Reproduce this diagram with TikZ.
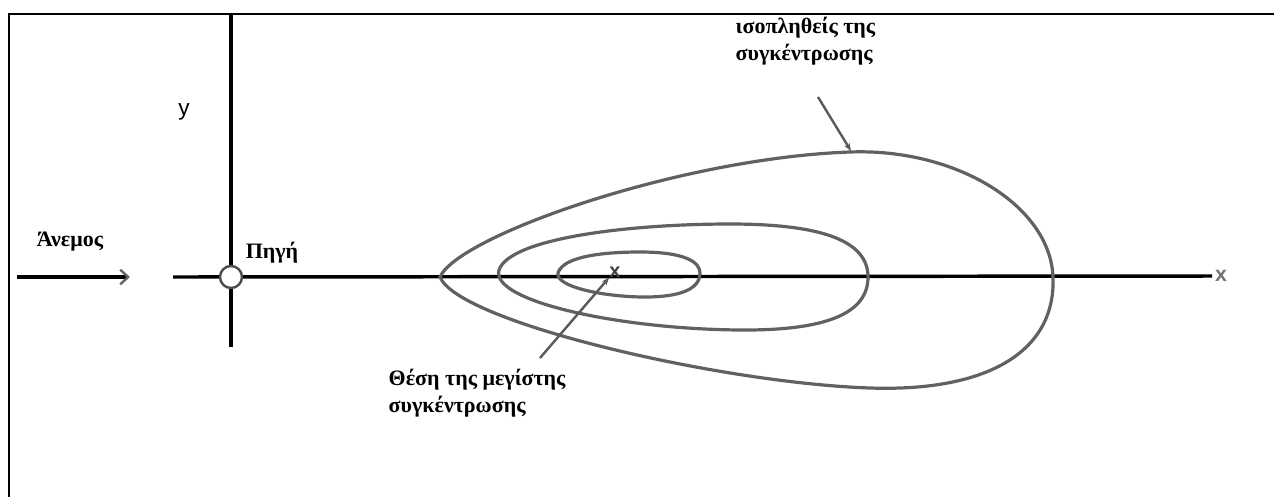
\documentclass[tikz,border=0pt]{standalone}
\usepackage{fontspec}
\setmainfont{Liberation Serif}
\setsansfont{Liberation Sans}
\usetikzlibrary{arrows.meta}

\begin{document}
\begin{tikzpicture}[x=0.75pt, y=-0.75pt, font=\fontsize{16}{20}\selectfont,
  axis/.style={line width=2.6pt},
  iso/.style={line width=2.4pt, black!62},
  ptr/.style={line width=1.8pt, black!65, -{Stealth[length=6pt, width=4.5pt]}},
  lbl/.style={font=\fontsize{16.5}{20.5}\selectfont\bfseries, align=left}]

  \useasboundingbox (0,0) rectangle (1274,497);

  % Frame (open at right and bottom)
  \draw[line width=1.8pt] (9,497) -- (9,14) -- (1274,14);

  % Axes
  \coordinate (ytop) at (231,14);
  \coordinate (ybot) at (231,347);
  \coordinate (xleft) at (173,277);
  \node[text=black!55, font=\sffamily\bfseries\fontsize{16}{16}\selectfont, inner sep=2pt] (xend) at (1221,276) {x};
  \draw[axis] (ytop) -- (ybot);
  \draw[axis] (xleft) -- (xend.west);
  \node[circle, draw=black!70, fill=white, line width=1.8pt, minimum size=16.5pt, inner sep=0pt] (src) at (231,277) {};
  \node[font=\sffamily\fontsize{17}{17}\selectfont] (ylbl) at (184,112) {y};

  % ---- Wind ----
  \coordinate (wstart) at (17,277);
  \coordinate (wend) at (130,277);
  \draw[line width=2.6pt, -{Straight Barb[length=6pt, width=11pt, line width=1.8pt, color=black!60]}] (wstart) -- (wend);
  \node[lbl] (wind) at (70,242) {Άνεμος};
  \node[lbl] (srclbl) at (272,253) {Πηγή};

  % ---- Isopleths ----
  \draw[iso] (440,277) .. controls (458,236) and (680,158) .. (850,152)
    .. controls (955,148) and (1050,205) .. (1053,277)
    .. controls (1056,350) and (990,392) .. (870,388)
    .. controls (720,383) and (458,322) .. (440,277) -- cycle;
  \draw[iso] (499,270) .. controls (510,238) and (630,224) .. (730,224)
    .. controls (825,224) and (868,242) .. (868,277)
    .. controls (868,314) and (825,330) .. (745,330)
    .. controls (625,330) and (490,302) .. (499,270) -- cycle;
  \draw[iso] (558,273) .. controls (563,256) and (605,252) .. (640,252)
    .. controls (685,252) and (700,262) .. (700,273)
    .. controls (700,290) and (678,297) .. (645,297)
    .. controls (605,297) and (555,287) .. (558,273) -- cycle;

  % Maximum
  \node[text=black!75, font=\sffamily\bfseries\fontsize{15}{15}\selectfont, inner sep=0pt] (maxpt) at (615,272) {x};
  \coordinate (maxtail) at (540,358);
  \draw[ptr] (maxtail) -- (maxpt.south west);
  \node[lbl, anchor=north west] (maxlbl) at (384,364) {Θέση της μεγίστης\\συγκέντρωσης};

  % Isopleth label
  \coordinate (isotip) at (851,151);
  \node[lbl, anchor=north west] (isolbl) at (731,12) {ισοπληθείς της\\συγκέντρωσης};
  \coordinate (isotail) at (818,97);
  \draw[ptr] (isotail) -- (isotip);

\end{tikzpicture}
\end{document}
